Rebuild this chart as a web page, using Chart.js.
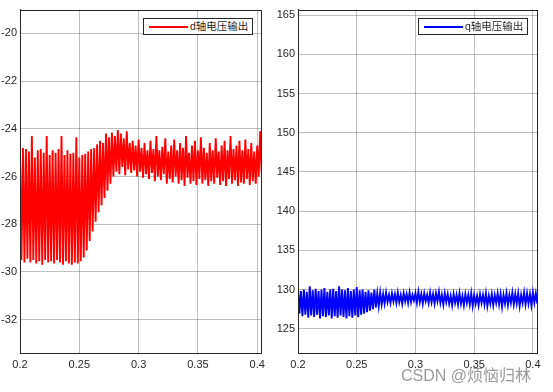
<!DOCTYPE html>
<html>
<head>
<meta charset="utf-8">
<script src="https://cdn.jsdelivr.net/npm/chart.js@4.4.0/dist/chart.umd.min.js"></script>
<style>
    html, body { margin: 0; padding: 0; background: #ffffff; }
    #wrap { position: relative; width: 553px; height: 392px; overflow: hidden; }
    .panel { position: absolute; top: 0; height: 392px; }
    .legend {
        position: absolute; top: 18px; width: 108px; height: 15px;
        border: 1px solid #262626; background: #fff;
        font: 10.5px "Liberation Sans", "Noto Sans CJK SC", sans-serif; color: #262626;
        line-height: 15px; white-space: nowrap;
    }
    .legend i { position: absolute; left: 5px; top: 7px; width: 39px; height: 1.5px; }
    .legend span { position: absolute; left: 46px; top: 0; }
    #mark {
        position: absolute; left: 401px; top: 362px;
        font: 16px "Liberation Sans", "Noto Sans CJK SC", sans-serif;
        color: rgba(120, 120, 120, 0.75); white-space: nowrap;
    }
</style>
</head>
<body>
<div id="wrap">
    <div class="panel" style="left:0;width:270px"><canvas id="dChart"></canvas></div>
    <div class="panel" style="left:270px;width:283px"><canvas id="qChart"></canvas></div>
    <div class="legend" style="left:143px"><i style="background:#ff0000"></i><span>d轴电压输出</span></div>
    <div class="legend" style="left:418px"><i style="background:#0000ff"></i><span>q轴电压输出</span></div>
    <div id="mark">CSDN @烦恼归林</div>
</div>
<script>
// time grid of the samples (s): one peak and one trough every 2.5 ms
const T0 = 0.2;
const STEP = 0.00125;

const xTicks = [0.2, 0.25, 0.3, 0.35, 0.4];
const dTicks = [-32, -30, -28, -26, -24, -22, -20];
const qTicks = [125, 130, 135, 140, 145, 150, 155, 160, 165];

// d-axis voltage: upper and lower swings of each ripple cycle
const dPeaks = [
    -25.0, -24.8, -24.85, -24.95, -24.3, -25.2, -24.9, -24.85, -25.0, -24.3,
    -25.1, -24.9, -25.0, -24.85, -24.3, -25.1, -24.9, -25.05, -25.0, -24.35,
    -25.2, -25.1, -25.05, -24.95, -24.85, -24.8, -24.65, -24.5, -24.6, -24.2,
    -24.35, -24.15, -24.3, -24.05, -24.2, -24.4, -24.1, -24.6, -24.5, -24.7,
    -24.45, -24.8, -24.6, -24.9, -24.5, -24.85, -24.3, -24.9, -24.75, -24.4,
    -24.95, -24.7, -24.45, -24.9, -24.6, -24.8, -24.3, -25.0, -24.7, -24.5,
    -24.9, -24.35, -24.8, -25.0, -24.6, -24.9, -24.4, -24.95, -24.7, -24.5,
    -24.9, -24.3, -24.85, -24.7, -24.5, -24.9, -24.45, -24.85, -24.6, -24.95,
    -24.7, -24.1
];
const dTroughs = [
    -29.5, -29.6, -29.45, -29.6, -29.5, -29.65, -29.55, -29.7, -29.5, -29.6,
    -29.55, -29.65, -29.5, -29.6, -29.7, -29.55, -29.65, -29.7, -29.6, -29.65,
    -29.55, -29.4, -29.1, -28.7, -28.3, -27.9, -27.5, -27.2, -26.9, -26.6,
    -26.3, -26.0, -25.8, -25.9, -25.6, -25.95, -25.7, -25.85, -25.75, -26.0,
    -25.8, -26.05, -25.9, -26.1, -25.85, -26.2, -26.0, -26.15, -25.9, -26.3,
    -26.1, -26.25, -26.0, -26.3, -26.15, -26.4, -26.05, -26.3, -26.2, -26.35,
    -26.1, -26.3, -26.15, -26.4, -26.2, -26.3, -26.05, -26.35, -26.2, -26.4,
    -26.1, -26.3, -26.15, -26.4, -26.25, -26.3, -26.1, -26.35, -26.2, -26.3,
    -26.0, -25.85
];

// q-axis voltage: upper and lower swings of each ripple cycle
const qPeaks = [
    130.2, 129.8, 130.0, 129.7, 130.4, 129.9, 130.1, 129.8, 130.0, 130.2,
    129.7, 130.0, 130.1, 129.8, 130.4, 130.0, 129.9, 130.2, 129.8, 130.0,
    130.3, 129.9, 130.0, 129.7, 129.9, 129.6, 130.0, 129.5, 129.6, 129.4,
    129.6, 129.3, 129.5, 129.4, 129.6, 129.3, 129.5, 129.4, 129.6, 129.3,
    129.5, 129.7, 129.4, 129.5, 129.3, 129.6, 129.4, 129.5, 129.7, 129.3,
    129.5, 129.4, 129.2, 129.4, 129.3, 129.5, 129.2, 129.4, 129.3, 129.5,
    129.3, 129.2, 129.4, 129.3, 129.5, 129.2, 129.4, 129.3, 129.5, 129.4,
    129.3, 129.5, 129.3, 129.6, 129.4, 129.5, 129.3, 129.6, 129.5, 129.4,
    129.6, 129.5
];
const qTroughs = [
    126.9, 126.6, 126.8, 126.4, 126.7, 126.5, 126.8, 126.3, 126.6, 126.5,
    126.7, 126.3, 126.6, 126.4, 126.7, 126.5, 126.3, 126.6, 126.4, 126.7,
    126.5, 126.8, 126.9, 127.1, 127.3, 127.5, 127.7, 127.9, 128.1, 128.2,
    128.4, 128.3, 128.5, 128.3, 128.4, 128.2, 128.5, 128.3, 128.4, 128.6,
    128.3, 128.4, 128.2, 128.5, 128.3, 128.4, 128.2, 128.5, 128.3, 128.1,
    128.4, 128.2, 128.0, 128.3, 128.1, 128.2, 128.0, 128.3, 128.1, 127.9,
    128.2, 128.0, 128.3, 128.1, 127.9, 128.2, 128.0, 128.3, 128.1, 127.8,
    128.2, 128.0, 128.3, 128.1, 128.2, 127.9, 128.3, 128.1, 128.2, 128.0,
    128.3, 128.2
];

// merge peaks and troughs into one time series
function toPoints(peaks, troughs) {
    const pts = [];
    peaks.forEach((p, i) => {
        pts.push({ x: T0 + 2 * i * STEP, y: p });
        pts.push({ x: T0 + (2 * i + 1) * STEP, y: troughs[i] });
    });
    return pts;
}

// MATLAB style box around the plot area
const boxPlugin = {
    id: 'box',
    afterDraw(chart) {
        const a = chart.chartArea;
        const ctx = chart.ctx;
        ctx.save();
        ctx.strokeStyle = '#262626';
        ctx.lineWidth = 1;
        ctx.strokeRect(Math.round(a.left) + 0.5, Math.round(a.top) + 0.5,
            Math.round(a.right - a.left), Math.round(a.bottom - a.top));
        ctx.restore();
    }
};

function makeChart(canvasId, opts) {
    const font = { size: 11, family: 'Liberation Sans' };
    return new Chart(document.getElementById(canvasId), {
        type: 'line',
        data: {
            datasets: [{
                data: opts.points,
                borderColor: opts.color,
                borderWidth: 1.9,
                pointRadius: 0,
                tension: 0,
                fill: false
            }]
        },
        options: {
            responsive: true,
            maintainAspectRatio: false,
            animation: false,
            events: [],
            layout: { padding: { left: 0, right: opts.padRight, top: opts.padTop, bottom: 0 } },
            plugins: { legend: { display: false }, tooltip: { enabled: false } },
            scales: {
                x: {
                    type: 'linear',
                    min: 0.2,
                    max: 0.4035,
                    afterBuildTicks: s => { s.ticks = xTicks.map(v => ({ value: v })); },
                    afterFit: s => { s.height = 39; },
                    grid: { color: 'rgba(0,0,0,0.25)', drawTicks: false },
                    border: { display: true, color: '#262626' },
                    ticks: {
                        color: '#262626', font: font, padding: 5, maxRotation: 0,
                        callback: v => String(v)
                    }
                },
                y: {
                    min: opts.yMin,
                    max: opts.yMax,
                    afterBuildTicks: s => { s.ticks = opts.yTicks.map(v => ({ value: v })); },
                    afterFit: s => { s.width = opts.yWidth; },
                    grid: { color: 'rgba(0,0,0,0.25)', drawTicks: false },
                    border: { display: true, color: '#262626' },
                    ticks: { color: '#262626', font: font, padding: 3 }
                }
            }
        },
        plugins: [boxPlugin]
    });
}

makeChart('dChart', {
    points: toPoints(dPeaks, dTroughs),
    color: '#ff0000',
    yMin: -33.4, yMax: -19.0, yTicks: dTicks,
    yWidth: 20, padRight: 8, padTop: 8
});

makeChart('qChart', {
    points: toPoints(qPeaks, qTroughs),
    color: '#0000ff',
    yMin: 121.9, yMax: 165.7, yTicks: qTicks,
    yWidth: 28, padRight: 16, padTop: 9
});
</script>
</body>
</html>
